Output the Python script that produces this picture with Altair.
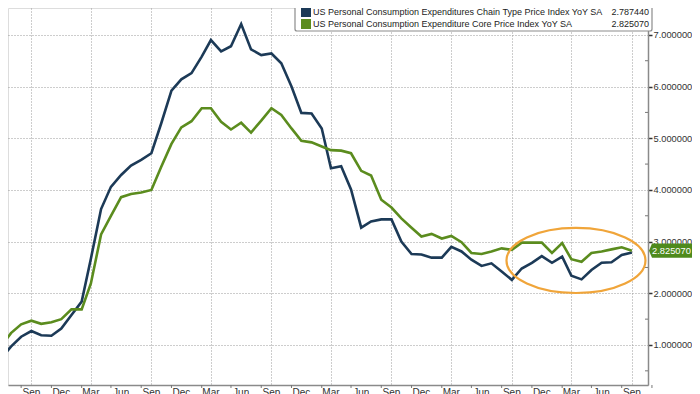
import altair as alt
import pandas as pd

# ---------------- data ----------------
start_year, start_month = 2020, 6  # first observation: Jun 2020
headline = [
    0.74, 0.97, 1.16, 1.27, 1.19, 1.18, 1.32,
    1.58, 1.84, 2.67, 3.63, 4.06, 4.29, 4.47, 4.58, 4.71, 5.29, 5.92, 6.14,
    6.26, 6.58, 6.90, 6.68, 6.78, 7.21, 6.72, 6.61, 6.64, 6.45, 6.00, 5.49,
    5.48, 5.19, 4.42, 4.46, 4.01, 3.27, 3.39, 3.43, 3.43, 3.00, 2.76, 2.75,
    2.69, 2.69, 2.90, 2.81, 2.65, 2.53, 2.58, 2.42, 2.26, 2.48, 2.59, 2.72,
    2.59, 2.71, 2.34, 2.27, 2.45, 2.59, 2.60, 2.74, 2.787440,
]
core = [
    0.97, 1.23, 1.40, 1.47, 1.41, 1.44, 1.50,
    1.69, 1.69, 2.19, 3.14, 3.50, 3.86, 3.92, 3.95, 4.00, 4.45, 4.89, 5.21,
    5.33, 5.58, 5.58, 5.32, 5.17, 5.30, 5.11, 5.34, 5.58, 5.45, 5.19, 4.95,
    4.92, 4.84, 4.77, 4.76, 4.71, 4.37, 4.28, 3.81, 3.66, 3.45, 3.27, 3.10,
    3.15, 3.06, 3.11, 2.99, 2.78, 2.76, 2.81, 2.87, 2.84, 2.98, 2.98, 2.98,
    2.78, 2.97, 2.66, 2.61, 2.78, 2.81, 2.85, 2.89, 2.825070,
]
series_names = [
    "US Personal Consumption Expenditures Chain Type Price Index YoY SA",
    "US Personal Consumption Expenditure Core Price Index YoY SA",
]
series_colors = ["#1c3a57", "#5b8c1e"]
y_ticks = [1, 2, 3, 4, 5, 6, 7]
ellipse_center = ("2025-03-15", 2.635)  # orange highlight ring

# ---------------- build tables ----------------
dates = pd.date_range(f"{start_year}-{start_month:02d}-01", periods=len(headline), freq="MS")
df = pd.concat([
    pd.DataFrame({"date": dates.strftime("%Y-%m-%d"), "series": series_names[0], "value": headline}),
    pd.DataFrame({"date": dates.strftime("%Y-%m-%d"), "series": series_names[1], "value": core}),
])

quarter_dates = pd.date_range("2020-09-01", "2025-09-01", freq="3MS")
label_values = [alt.DateTime(year=d.year, month=d.month, date=1, utc=True) for d in quarter_dates]
df_qlabels = pd.DataFrame({"date": quarter_dates.strftime("%Y-%m-%d"),
                           "label": quarter_dates.strftime("%b")})
tick_dates = (quarter_dates - pd.DateOffset(months=1)).strftime("%Y-%m-%d").tolist() + ["2025-11-01"]
df_ticks = pd.DataFrame({"date": tick_dates})
minor_y = pd.DataFrame({"value": [v + 0.5 for v in [0] + y_ticks]})

W, H = 640, 377
FONT = "Liberation Sans"

x_scale = alt.Scale(type="utc",
                    domain=[alt.DateTime(year=2020, month=6, date=22, utc=True),
                            alt.DateTime(year=2025, month=10, date=20, utc=True)])
y_scale = alt.Scale(domain=[0.226, 7.52], nice=False, zero=False)

x_enc = alt.X("date:T", scale=x_scale, title=None,
              axis=alt.Axis(values=label_values, labels=False,
                            grid=True, gridDash=[1, 2], gridColor="#9a9a9a", gridWidth=1,
                            ticks=False, domain=True, domainColor="#8a8a8a", domainWidth=1.5))
y_enc = alt.Y("value:Q", scale=y_scale, title=None,
              axis=alt.Axis(orient="right", values=y_ticks, format=".6f",
                            grid=True, gridDash=[1, 2], gridColor="#9a9a9a", gridWidth=1,
                            ticks=True, tickSize=4, tickColor="#333333", tickWidth=1.5,
                            domain=True, domainColor="#8a8a8a", domainWidth=1.5,
                            labelFont=FONT, labelFontSize=9.3, labelColor="#333333",
                            labelPadding=1, labelFlush=False))

lines = alt.Chart(df).mark_line(strokeWidth=2.6, clip=True).encode(
    x=x_enc, y=y_enc,
    color=alt.Color("series:N", scale=alt.Scale(domain=series_names, range=series_colors), legend=None),
)

xlabels = alt.Chart(df_qlabels).mark_text(
    baseline="top", align="center", font=FONT, fontSize=10, color="#333333").encode(
    x=alt.X("date:T", scale=x_scale), y=alt.value(H + 3), text="label:N")

xticks = alt.Chart(df_ticks).mark_rule(color="#777777", strokeWidth=1).encode(
    x=alt.X("date:T", scale=x_scale), y=alt.value(H), y2=alt.value(H + 3))

yminor = alt.Chart(minor_y).mark_rule(color="#777777", strokeWidth=1).encode(
    y=alt.Y("value:Q", scale=y_scale), x=alt.value(W - 3), x2=alt.value(W))

ellipse = alt.Chart(pd.DataFrame({"date": [ellipse_center[0]], "value": [ellipse_center[1]]})).mark_point(
    shape="M -1 0 A 1 0.468 0 1 1 1 0 A 1 0.468 0 1 1 -1 0 Z",
    size=139 * 139, filled=False, color="#f0a53a", strokeWidth=2.2, opacity=1,
).encode(x=alt.X("date:T", scale=x_scale), y=alt.Y("value:Q", scale=y_scale))

# legend box (Bloomberg style "Last Price" panel)
box = alt.Chart(pd.DataFrame({"a": [0]})).mark_rect(
    fill="white", stroke="#8c8c8c", strokeWidth=1.2, cornerRadius=2).encode(
    x=alt.value(287), x2=alt.value(W + 4), y=alt.value(-6), y2=alt.value(23))

legend_layers = []
for i, (name, col, vals) in enumerate(zip(series_names, series_colors, [headline, core])):
    yy = 4 + 12 * i
    legend_layers.append(alt.Chart(pd.DataFrame({"a": [0]})).mark_rect(color=col).encode(
        x=alt.value(293), x2=alt.value(303), y=alt.value(yy - 5), y2=alt.value(yy + 5)))
    legend_layers.append(alt.Chart(pd.DataFrame({"t": [name]})).mark_text(
        align="left", baseline="middle", font=FONT, fontSize=9, color="#222222").encode(
        text="t:N", x=alt.value(305), y=alt.value(yy)))
    legend_layers.append(alt.Chart(pd.DataFrame({"t": [f"{vals[-1]:.6f}"]})).mark_text(
        align="right", baseline="middle", font=FONT, fontSize=9, color="#222222").encode(
        text="t:N", x=alt.value(W + 1), y=alt.value(yy)))

# last-value tag on the right axis
tag_df = pd.DataFrame({"value": [core[-1]], "label": [f"{core[-1]:.6f}"]})
tag = alt.Chart(tag_df).mark_point(
    shape="M -1 0 L -0.86 -0.33 L 1 -0.33 L 1 0.33 L -0.86 0.33 Z",
    size=43 * 43, filled=True, color="#4e8a1c", opacity=1, strokeWidth=0,
).encode(x=alt.value(W + 22.5), y=alt.Y("value:Q", scale=y_scale))
tag_text = alt.Chart(tag_df).mark_text(
    align="center", baseline="middle", font=FONT, fontSize=9.3, color="white").encode(
    text="label:N", x=alt.value(W + 23.5), y=alt.Y("value:Q", scale=y_scale))

chart = alt.layer(lines, xlabels, xticks, yminor, ellipse, box, *legend_layers, tag, tag_text).properties(
    width=W, height=H,
    autosize=alt.AutoSizeParams(type="none"),
    padding={"left": 0, "top": 0, "right": 44, "bottom": 9},
).configure_view(stroke=None).configure(background="white")

chart.save("out.html", embed_options={"renderer": "svg", "actions": False})
